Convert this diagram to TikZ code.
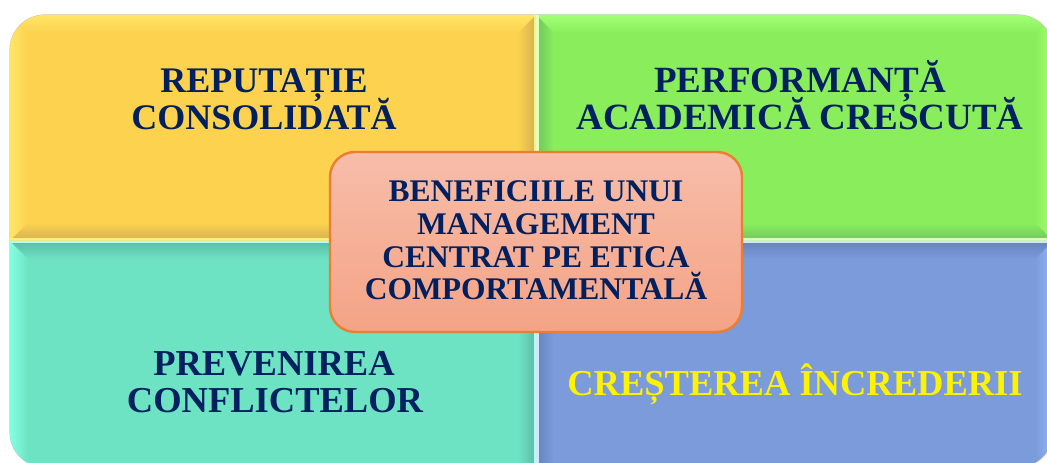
\documentclass[tikz,border=0pt]{standalone}
\usepackage{fontspec}
\setmainfont{Liberation Serif}
\definecolor{navy}{HTML}{002060}
\definecolor{ylbase}{HTML}{FCD24E}
\definecolor{yldark}{HTML}{D4AE55}
\definecolor{ylrim}{HTML}{FFF07A}
\definecolor{yllight}{HTML}{FFE566}
\definecolor{grbase}{HTML}{8AEE5C}
\definecolor{grdark}{HTML}{70C45E}
\definecolor{grrim}{HTML}{E0FFC0}
\definecolor{grlight}{HTML}{A2FF74}
\definecolor{tlbase}{HTML}{6DE3C4}
\definecolor{tldark}{HTML}{5ABCA4}
\definecolor{tlrim}{HTML}{B0FFF2}
\definecolor{tllight}{HTML}{84FFE2}
\definecolor{blbase}{HTML}{7B9BDB}
\definecolor{bldark}{HTML}{6783BC}
\definecolor{blrim}{HTML}{D0E8FF}
\definecolor{bllight}{HTML}{94B6F6}
\definecolor{ctop}{HTML}{F7BDAA}
\definecolor{cbot}{HTML}{F4A385}
\definecolor{cborder}{HTML}{ED7D31}
\tikzset{
  qtext/.style={anchor=base, inner sep=0pt, text=navy,
    font=\fontsize{36.5}{37}\selectfont\bfseries},
  ctext/.style={anchor=base, inner sep=0pt, text=navy,
    font=\fontsize{31.5}{33}\selectfont\bfseries},
  centerbox/.style={draw=cborder, line width=2.4pt, rounded corners=25pt,
    top color=ctop, bottom color=cbot, minimum width=412pt,
    minimum height=180pt, inner sep=0pt},
  outerclip/.style={rounded corners=35pt}
}
\begin{document}
\begin{tikzpicture}[x=1pt,y=1pt]
\useasboundingbox (0,0) rectangle (1047,463);
\fill[white] (0,0) rectangle (1047,463);
% faint outer outline
\draw[black!22, line width=1.2pt, rounded corners=35pt] (10,-4) rectangle (1053,448);
% ---------- top-left (yellow)
\begin{scope}
\clip (0,222) rectangle (536,470);
\clip[outerclip] (10,-4) rectangle (1053,448);
\fill[ylbase] (0,222) rectangle (536,463);
\shade[top color=yllight, bottom color=ylbase] (10,448) -- (536,448) -- (518,430) -- (28,430) -- cycle;
\shade[left color=yllight, right color=ylbase] (10,448) -- (28,430) -- (28,240) -- (10,222) -- cycle;
\shade[left color=ylbase, right color=yldark] (536,448) -- (518,430) -- (518,240) -- (536,222) -- cycle;
\shade[top color=ylbase, bottom color=yldark] (10,222) -- (28,240) -- (518,240) -- (536,222) -- cycle;
\fill[ylrim] (533.5,222) rectangle (536,448);
\fill[ylrim] (10,222) rectangle (536,224.5);
\end{scope}
% ---------- top-right (green)
\begin{scope}
\clip (536,222) rectangle (1060,470);
\clip[outerclip] (10,-4) rectangle (1053,448);
\fill[grbase] (536,222) rectangle (1060,463);
\shade[top color=grlight, bottom color=grbase] (536,448) -- (1053,448) -- (1035,430) -- (554,430) -- cycle;
\shade[left color=grbase, right color=grlight] (1053,448) -- (1035,430) -- (1035,240) -- (1053,222) -- cycle;
\shade[left color=grdark, right color=grbase] (536,448) -- (554,430) -- (554,240) -- (536,222) -- cycle;
\shade[top color=grbase, bottom color=grdark] (536,222) -- (554,240) -- (1035,240) -- (1053,222) -- cycle;
\fill[grrim] (536,222) rectangle (538.5,448);
\fill[grrim] (536,222) rectangle (1053,224.5);
\end{scope}
% ---------- bottom-left (teal)
\begin{scope}
\clip (0,-10) rectangle (536,222);
\clip[outerclip] (10,-4) rectangle (1053,448);
\fill[tlbase] (0,-10) rectangle (536,222);
\shade[left color=tllight, right color=tlbase] (10,222) -- (28,204) -- (28,-4) -- (10,-4) -- cycle;
\shade[left color=tlbase, right color=tldark] (536,222) -- (518,204) -- (518,-4) -- (536,-4) -- cycle;
\shade[top color=tldark, bottom color=tlbase] (10,222) -- (28,204) -- (518,204) -- (536,222) -- cycle;
\fill[tlrim] (533.5,-4) rectangle (536,222);
\fill[tlrim] (10,219.5) rectangle (536,222);
\end{scope}
% ---------- bottom-right (blue)
\begin{scope}
\clip (536,-10) rectangle (1060,222);
\clip[outerclip] (10,-4) rectangle (1053,448);
\fill[blbase] (536,-10) rectangle (1060,222);
\shade[left color=blbase, right color=bllight] (1053,222) -- (1035,204) -- (1035,-4) -- (1053,-4) -- cycle;
\shade[left color=bldark, right color=blbase] (536,222) -- (554,204) -- (554,-4) -- (536,-4) -- cycle;
\shade[top color=bldark, bottom color=blbase] (536,222) -- (554,204) -- (1035,204) -- (1053,222) -- cycle;
\fill[blrim] (536,-4) rectangle (538.5,222);
\fill[blrim] (536,219.5) rectangle (1053,222);
\end{scope}
% ---------- quadrant texts
\node[qtext, font=\fontsize{36}{37}\selectfont\bfseries] (tl1) at (264,370) {REPUTAȚIE};
\node[qtext, font=\fontsize{36}{37}\selectfont\bfseries] (tl2) at (264,333) {CONSOLIDATĂ};
\node[qtext, font=\fontsize{37}{37}\selectfont\bfseries] (tr1) at (800,370) {PERFORMANȚĂ};
\node[qtext, font=\fontsize{37}{37}\selectfont\bfseries] (tr2) at (800,333) {ACADEMICĂ CRESCUTĂ};
\node[qtext] (bl1) at (274,87) {PREVENIREA};
\node[qtext] (bl2) at (275,50) {CONFLICTELOR};
\node[qtext, text=yellow] (br1) at (795,67) {CREȘTEREA ÎNCREDERII};
% ---------- center box
\node[centerbox] (c) at (536,221) {};
\node[ctext] (c1) at (536,261) {BENEFICIILE UNUI};
\node[ctext] (c2) at (536,228) {MANAGEMENT};
\node[ctext] (c3) at (536,195) {CENTRAT PE ETICA};
\node[ctext] (c4) at (536,163) {COMPORTAMENTALĂ};
\end{tikzpicture}
\end{document}
